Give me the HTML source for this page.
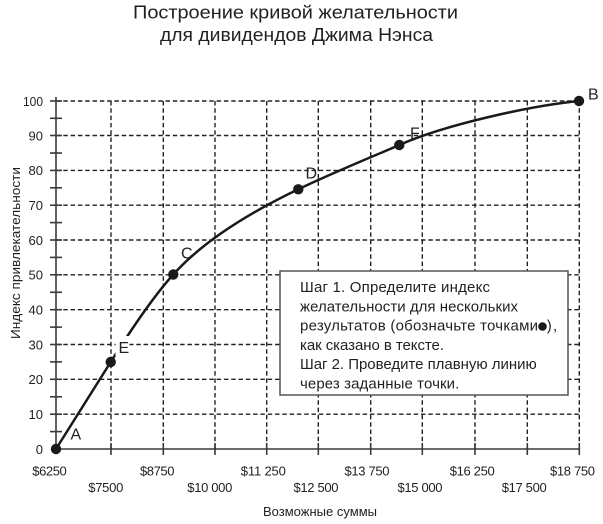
<!DOCTYPE html>
<html><head><meta charset="utf-8"><style>
html,body{margin:0;padding:0;background:#fff;}
svg{display:block;}
text{font-family:"Liberation Sans","Noto Sans CJK SC",sans-serif;fill:#231f20;}
</style></head><body>
<svg width="603" height="524" viewBox="0 0 603 524" xmlns="http://www.w3.org/2000/svg">
<!-- title -->
<text x="133" y="18.5" font-size="18.5" textLength="325" lengthAdjust="spacingAndGlyphs">Построение кривой желательности</text>
<text x="160" y="41" font-size="18.5" textLength="273" lengthAdjust="spacingAndGlyphs">для дивидендов Джима Нэнса</text>

<!-- horizontal gridlines -->
<g stroke="#222" stroke-width="1.4" stroke-dasharray="4.5,2.8" fill="none">
<line x1="56" y1="101" x2="579" y2="101"/>
<line x1="56" y1="135.5" x2="579" y2="135.5"/>
<line x1="56" y1="170.4" x2="579" y2="170.4"/>
<line x1="56" y1="205.2" x2="579" y2="205.2"/>
<line x1="56" y1="240" x2="579" y2="240"/>
<line x1="56" y1="274.8" x2="579" y2="274.8"/>
<line x1="56" y1="309.7" x2="579" y2="309.7"/>
<line x1="56" y1="344.5" x2="579" y2="344.5"/>
<line x1="56" y1="379.3" x2="579" y2="379.3"/>
<line x1="56" y1="414.2" x2="579" y2="414.2"/>
<!-- vertical gridlines -->
<line x1="111" y1="101" x2="111" y2="449"/>
<line x1="163.3" y1="101" x2="163.3" y2="449"/>
<line x1="215" y1="101" x2="215" y2="449"/>
<line x1="266.7" y1="101" x2="266.7" y2="449"/>
<line x1="318.3" y1="101" x2="318.3" y2="449"/>
<line x1="370.7" y1="101" x2="370.7" y2="449"/>
<line x1="422.3" y1="101" x2="422.3" y2="449"/>
<line x1="475" y1="101" x2="475" y2="449"/>
<line x1="527.3" y1="101" x2="527.3" y2="449"/>
<line x1="579.3" y1="101" x2="579.3" y2="449"/>
</g>

<!-- axes -->
<g stroke="#3a3a3a" stroke-width="1.6">
<line x1="56" y1="97" x2="56" y2="449.5"/>
<line x1="56" y1="449" x2="579.5" y2="449"/>
<line x1="50" y1="101" x2="62" y2="101"/>
<line x1="50" y1="118.3" x2="62" y2="118.3"/>
<line x1="50" y1="135.5" x2="62" y2="135.5"/>
<line x1="50" y1="153" x2="62" y2="153"/>
<line x1="50" y1="170.4" x2="62" y2="170.4"/>
<line x1="50" y1="187.8" x2="62" y2="187.8"/>
<line x1="50" y1="205.2" x2="62" y2="205.2"/>
<line x1="50" y1="222.6" x2="62" y2="222.6"/>
<line x1="50" y1="240" x2="62" y2="240"/>
<line x1="50" y1="257.4" x2="62" y2="257.4"/>
<line x1="50" y1="274.8" x2="62" y2="274.8"/>
<line x1="50" y1="292.3" x2="62" y2="292.3"/>
<line x1="50" y1="309.7" x2="62" y2="309.7"/>
<line x1="50" y1="327.1" x2="62" y2="327.1"/>
<line x1="50" y1="344.5" x2="62" y2="344.5"/>
<line x1="50" y1="361.9" x2="62" y2="361.9"/>
<line x1="50" y1="379.3" x2="62" y2="379.3"/>
<line x1="50" y1="396.8" x2="62" y2="396.8"/>
<line x1="50" y1="414.2" x2="62" y2="414.2"/>
<line x1="50" y1="431.6" x2="62" y2="431.6"/>
<line x1="111" y1="443" x2="111" y2="455"/>
<line x1="163.3" y1="443" x2="163.3" y2="455"/>
<line x1="215" y1="443" x2="215" y2="455"/>
<line x1="266.7" y1="443" x2="266.7" y2="455"/>
<line x1="318.3" y1="443" x2="318.3" y2="455"/>
<line x1="370.7" y1="443" x2="370.7" y2="455"/>
<line x1="422.3" y1="443" x2="422.3" y2="455"/>
<line x1="475" y1="443" x2="475" y2="455"/>
<line x1="527.3" y1="443" x2="527.3" y2="455"/>
<line x1="579.3" y1="443" x2="579.3" y2="455"/>
</g>

<!-- y tick labels -->
<g font-size="13" text-anchor="end">
<text x="43" y="105.8" textLength="20" lengthAdjust="spacingAndGlyphs">100</text>
<text x="43" y="140.3">90</text>
<text x="43" y="175.2">80</text>
<text x="43" y="210">70</text>
<text x="43" y="244.8">60</text>
<text x="43" y="279.6">50</text>
<text x="43" y="314.5">40</text>
<text x="43" y="349.3">30</text>
<text x="43" y="384.1">20</text>
<text x="43" y="419">10</text>
<text x="43" y="454">0</text>
</g>

<!-- x tick labels -->
<g font-size="13" text-anchor="middle" lengthAdjust="spacingAndGlyphs">
<text x="49.5" y="475.3" textLength="34.5">$6250</text>
<text x="157.2" y="475.3" textLength="34.5">$8750</text>
<text x="263.3" y="475.3" textLength="45">$11 250</text>
<text x="367" y="475.3" textLength="45">$13 750</text>
<text x="472.2" y="475.3" textLength="45">$16 250</text>
<text x="572.5" y="475.3" textLength="45">$18 750</text>
<text x="105.8" y="492" textLength="35">$7500</text>
<text x="209.8" y="492" textLength="45">$10 000</text>
<text x="316" y="492" textLength="45">$12 500</text>
<text x="420" y="492" textLength="45">$15 000</text>
<text x="524.2" y="492" textLength="45">$17 500</text>
</g>

<!-- axis titles -->
<text x="320" y="516" font-size="13" text-anchor="middle" textLength="114" lengthAdjust="spacingAndGlyphs">Возможные суммы</text>
<g transform="translate(20,253) rotate(-90)">
<text x="0" y="0" font-size="13" text-anchor="middle" textLength="172" lengthAdjust="spacingAndGlyphs">Индекс привлекательности</text>
</g>

<!-- curve -->
<path d="M56,449 L110.7,362 C128.7,333.4 153.3,296.5 173.3,274.5 C206,238 257.3,209 298.3,189.3 C336,171.2 384.3,151.75 399.3,145 C444.3,125 529,106 579,101" fill="none" stroke="#1a1a1a" stroke-width="2.5" stroke-linecap="round" stroke-linejoin="round"/>

<!-- knockout behind E -->
<rect x="115.5" y="336" width="14" height="21" fill="#fff"/>

<!-- text box -->
<rect x="280" y="271" width="288" height="124" fill="#fff" stroke="#555" stroke-width="1.5"/>
<g font-size="15" lengthAdjust="spacingAndGlyphs">
<text x="300" y="292" textLength="190">Шаг 1. Определите индекс</text>
<text x="300" y="311.3" textLength="218">желательности для нескольких</text>
<text x="300" y="330.6" textLength="238">результатов (обозначьте точками</text>
<text x="546.7" y="330.6" textLength="10.5">),</text>
<text x="300" y="349.8" textLength="144">как сказано в тексте.</text>
<text x="300" y="369.1" textLength="236.7">Шаг 2. Проведите плавную линию</text>
<text x="300" y="388.4" textLength="159.3">через заданные точки.</text>
</g>
<circle cx="542.5" cy="326.5" r="4.3" fill="#1a1a1a"/>

<!-- points -->
<g fill="#1a1a1a">
<circle cx="56" cy="449" r="5.2"/>
<circle cx="110.7" cy="362" r="5.2"/>
<circle cx="173.3" cy="274.5" r="5.2"/>
<circle cx="298.3" cy="189.3" r="5.2"/>
<circle cx="399.3" cy="145" r="5.2"/>
<circle cx="579" cy="101" r="5.2"/>
</g>

<!-- point labels -->
<g font-size="16">
<text x="70.5" y="439.5">A</text>
<text x="118.5" y="353">E</text>
<text x="181" y="258.5">C</text>
<text x="305.5" y="178.5">D</text>
<text x="410" y="138.5">F</text>
<text x="588" y="99.5">B</text>
</g>
</svg>
</body></html>
